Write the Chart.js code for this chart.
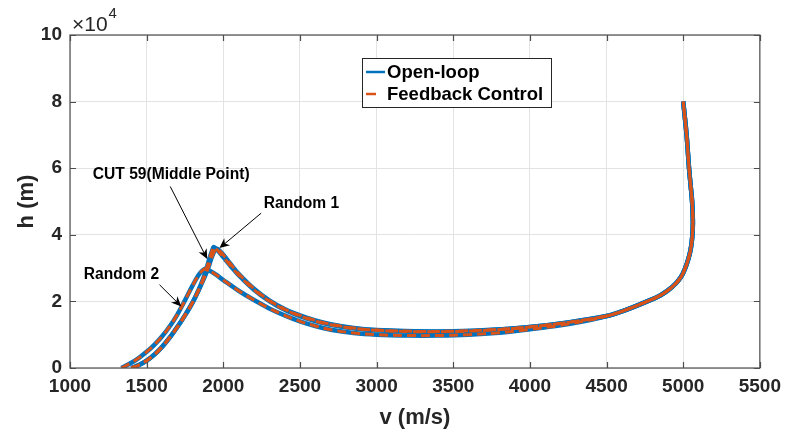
<!DOCTYPE html>
<html>
<head>
<meta charset="utf-8">
<script src="https://cdn.jsdelivr.net/npm/chart.js@4.4.1/dist/chart.umd.min.js"></script>
<style>
  html, body { margin: 0; padding: 0; background: #fff; }
  #wrap { width: 788px; height: 437px; }
</style>
</head>
<body>
<div id="wrap"><canvas id="trajChart"></canvas></div>
<script>
// --- data (v in m/s, h in m) ---
const xTicks = [1000, 1500, 2000, 2500, 3000, 3500, 4000, 4500, 5000, 5500];
const yTicks = [0, 20000, 40000, 60000, 80000, 100000];

// common tail near the entry point (5000 m/s, 80 km)
const tailV = [4600, 4670, 4780, 4850, 4900, 4950, 4985, 5010, 5035, 5050, 5060, 5063, 5058, 5048, 5038, 5022, 5000];
const tailH = [17000, 18200, 20300, 21800, 23300, 25300, 27300, 29600, 33000, 36000, 40000, 44000, 50000, 55000, 60000, 70000, 80000];

// Random 2 (lower peak)
const rand2V = [1335, 1400, 1450, 1500, 1550, 1600, 1650, 1700, 1750, 1800, 1840, 1865, 1882, 1900, 1950, 2000, 2100, 2200, 2300, 2400, 2500, 2600, 2700, 2850, 3000, 3200, 3400, 3600, 3800, 4000, 4200, 4400, 4500];
const rand2H = [0, 1560, 3060, 4860, 6960, 9460, 12460, 16060, 20310, 24800, 28000, 29300, 29800, 29500, 28100, 26400, 23200, 20400, 17900, 15800, 14000, 12600, 11500, 10500, 10000, 9750, 9750, 10000, 10600, 11600, 12800, 14500, 15600];

// CUT 59 (middle point)
const cut59V = [1400, 1450, 1500, 1550, 1600, 1650, 1700, 1750, 1800, 1840, 1870, 1890, 1910, 1925, 1937, 1950, 1975, 2000, 2050, 2100, 2200, 2300, 2400, 2500, 2600, 2700, 2850, 3000, 3250, 3500, 3750, 4000, 4250, 4500];
const cut59H = [0, 900, 2200, 4000, 6300, 9100, 12300, 15800, 19700, 23500, 27000, 29800, 33000, 35000, 36300, 35900, 34700, 33300, 30500, 27900, 23500, 20100, 17500, 15600, 14100, 13000, 11900, 11300, 10900, 10950, 11400, 12300, 13700, 15600];

// Random 1
const rand1V = [1400, 1450, 1500, 1550, 1600, 1650, 1700, 1750, 1800, 1840, 1880, 1905, 1925, 1945, 1958, 1972, 2000, 2050, 2100, 2200, 2300, 2400, 2500, 2600, 2700, 2850, 3000, 3250, 3500, 3750, 4000, 4250, 4500];
const rand1H = [0, 900, 2200, 4000, 6300, 9100, 12300, 15800, 19700, 23500, 27500, 30500, 33300, 35300, 35800, 35400, 34000, 31100, 28300, 23800, 20300, 17700, 15800, 14300, 13150, 12000, 11400, 11000, 11050, 11500, 12350, 13700, 15600];

const legendLabels = ['Open-loop', 'Feedback Control'];
const BLUE = '#0072BD';
const ORANGE = '#D95319';
const AXIS = '#262626';

function toPoints(vs, hs) {
    const v = vs.concat(tailV);
    const h = hs.concat(tailH);
    return v.map((x, i) => ({ x: x, y: h[i] }));
}

const runs = [
    toPoints(rand2V, rand2H),
    toPoints(cut59V, cut59H),
    toPoints(rand1V, rand1H)
];

// text arrows, in data coords
const notes = [
    { text: 'CUT 59(Middle Point)', tx: 1660, ty: 58000, fromX: 1654, fromY: 54500, toX: 1895, toY: 32700 },
    { text: 'Random 1', tx: 2510, ty: 49300, fromX: 2247, fromY: 46500, toX: 1975, toY: 36000 },
    { text: 'Random 2', tx: 1336, ty: 28000, fromX: 1584, fromY: 25000, toX: 1726, toY: 18500 }
];

const datasets = [];
runs.forEach(pts => {
    datasets.push({
        label: legendLabels[0], data: pts, showLine: true, pointRadius: 0,
        borderColor: BLUE, borderWidth: 4.5, tension: 0.35, order: 2
    });
});
runs.forEach(pts => {
    datasets.push({
        label: legendLabels[1], data: pts, showLine: true, pointRadius: 0,
        borderColor: ORANGE, borderWidth: 3, borderDash: [9, 5], tension: 0.35, order: 1
    });
});

// box, inward ticks, exponent, legend and arrows (matlab look)
const matlabPlugin = {
    id: 'matlabLook',
    afterDraw(chart) {
        const ctx = chart.ctx;
        const a = chart.chartArea;
        const xs = chart.scales.x, ys = chart.scales.y;
        ctx.save();

        // annotations
        ctx.fillStyle = '#000';
        ctx.strokeStyle = '#000';
        ctx.font = 'bold 15.6px "Liberation Sans", Arial, sans-serif';
        ctx.textAlign = 'center';
        ctx.textBaseline = 'middle';
        notes.forEach(n => {
            ctx.fillText(n.text, xs.getPixelForValue(n.tx), ys.getPixelForValue(n.ty));
            const x0 = xs.getPixelForValue(n.fromX), y0 = ys.getPixelForValue(n.fromY);
            const x1 = xs.getPixelForValue(n.toX), y1 = ys.getPixelForValue(n.toY);
            const ang = Math.atan2(y1 - y0, x1 - x0);
            ctx.lineWidth = 1;
            ctx.beginPath();
            ctx.moveTo(x0, y0);
            ctx.lineTo(x1 - 6 * Math.cos(ang), y1 - 6 * Math.sin(ang));
            ctx.stroke();
            // vback2 head
            const L = 10, W = 4.5;
            ctx.beginPath();
            ctx.moveTo(x1, y1);
            ctx.lineTo(x1 - L * Math.cos(ang) + W * Math.sin(ang), y1 - L * Math.sin(ang) - W * Math.cos(ang));
            ctx.lineTo(x1 - 0.7 * L * Math.cos(ang), y1 - 0.7 * L * Math.sin(ang));
            ctx.lineTo(x1 - L * Math.cos(ang) - W * Math.sin(ang), y1 - L * Math.sin(ang) + W * Math.cos(ang));
            ctx.closePath();
            ctx.fill();
        });

        // axes box + inward ticks
        ctx.strokeStyle = '#4d4d4d';
        ctx.lineWidth = 1.2;
        ctx.strokeRect(a.left, a.top, a.right - a.left, a.bottom - a.top);
        ctx.beginPath();
        xTicks.forEach(t => {
            const px = Math.round(xs.getPixelForValue(t)) + 0.5;
            ctx.moveTo(px, a.bottom); ctx.lineTo(px, a.bottom - 6);
            ctx.moveTo(px, a.top); ctx.lineTo(px, a.top + 6);
        });
        yTicks.forEach(t => {
            const py = Math.round(ys.getPixelForValue(t)) + 0.5;
            ctx.moveTo(a.left, py); ctx.lineTo(a.left + 6, py);
            ctx.moveTo(a.right, py); ctx.lineTo(a.right - 6, py);
        });
        ctx.stroke();

        // x10^4
        ctx.fillStyle = AXIS;
        ctx.textAlign = 'left';
        ctx.textBaseline = 'alphabetic';
        ctx.font = '21px "Liberation Sans", Arial, sans-serif';
        ctx.fillText('\u00d710', a.left + 2, a.top - 4);
        const w = ctx.measureText('\u00d710').width;
        ctx.font = '15px "Liberation Sans", Arial, sans-serif';
        ctx.fillText('4', a.left + 3 + w, a.top - 17);

        // legend
        const lx = 362, ly = 58, lw = 189, lh = 49;
        ctx.fillStyle = '#fff';
        ctx.fillRect(lx, ly, lw, lh);
        ctx.strokeStyle = AXIS;
        ctx.lineWidth = 1;
        ctx.strokeRect(lx + 0.5, ly + 0.5, lw, lh);
        ctx.font = 'bold 18.5px "Liberation Sans", Arial, sans-serif';
        ctx.textBaseline = 'middle';
        ctx.fillStyle = '#000';
        ctx.lineWidth = 2.5;
        ctx.strokeStyle = BLUE;
        ctx.beginPath(); ctx.moveTo(366, 72); ctx.lineTo(385, 72); ctx.stroke();
        ctx.fillText(legendLabels[0], 387, 73);
        ctx.strokeStyle = ORANGE;
        ctx.beginPath(); ctx.moveTo(366, 94); ctx.lineTo(376, 94); ctx.stroke();
        ctx.fillText(legendLabels[1], 387, 95);

        ctx.restore();
    }
};

Chart.defaults.font.family = '"Liberation Sans", Arial, sans-serif';
Chart.defaults.color = AXIS;

new Chart(document.getElementById('trajChart'), {
    type: 'scatter',
    data: { datasets: datasets },
    options: {
        responsive: true,
        maintainAspectRatio: false,
        animation: false,
        events: [],
        layout: { padding: { top: 35, right: 27, left: 0, bottom: 0 } },
        plugins: {
            legend: { display: false },
            tooltip: { enabled: false }
        },
        scales: {
            x: {
                type: 'linear',
                min: 1000, max: 5500,
                afterBuildTicks: s => { s.ticks = xTicks.map(v => ({ value: v })); },
                afterFit: s => { s.height = 69; },
                grid: { color: '#e3e3e3', lineWidth: 1, drawTicks: false },
                border: { display: false },
                ticks: { padding: 7, maxRotation: 0, font: { size: 19, weight: 'bold' }, color: AXIS, callback: v => String(v) },
                title: { display: true, text: 'v (m/s)', font: { size: 22, weight: 'bold' }, color: AXIS, padding: { top: 4, bottom: 6 } }
            },
            y: {
                type: 'linear',
                min: 0, max: 100000,
                afterBuildTicks: s => { s.ticks = yTicks.map(v => ({ value: v })); },
                afterFit: s => { s.width = 70; },
                grid: { color: '#e3e3e3', lineWidth: 1, drawTicks: false },
                border: { display: false },
                ticks: { padding: 8, font: { size: 19, weight: 'bold' }, color: AXIS, callback: v => String(v / 10000) },
                title: { display: true, text: 'h (m)', font: { size: 22, weight: 'bold' }, color: AXIS, padding: { top: 14, bottom: 0 } }
            }
        }
    },
    plugins: [matlabPlugin]
});
</script>
</body>
</html>
